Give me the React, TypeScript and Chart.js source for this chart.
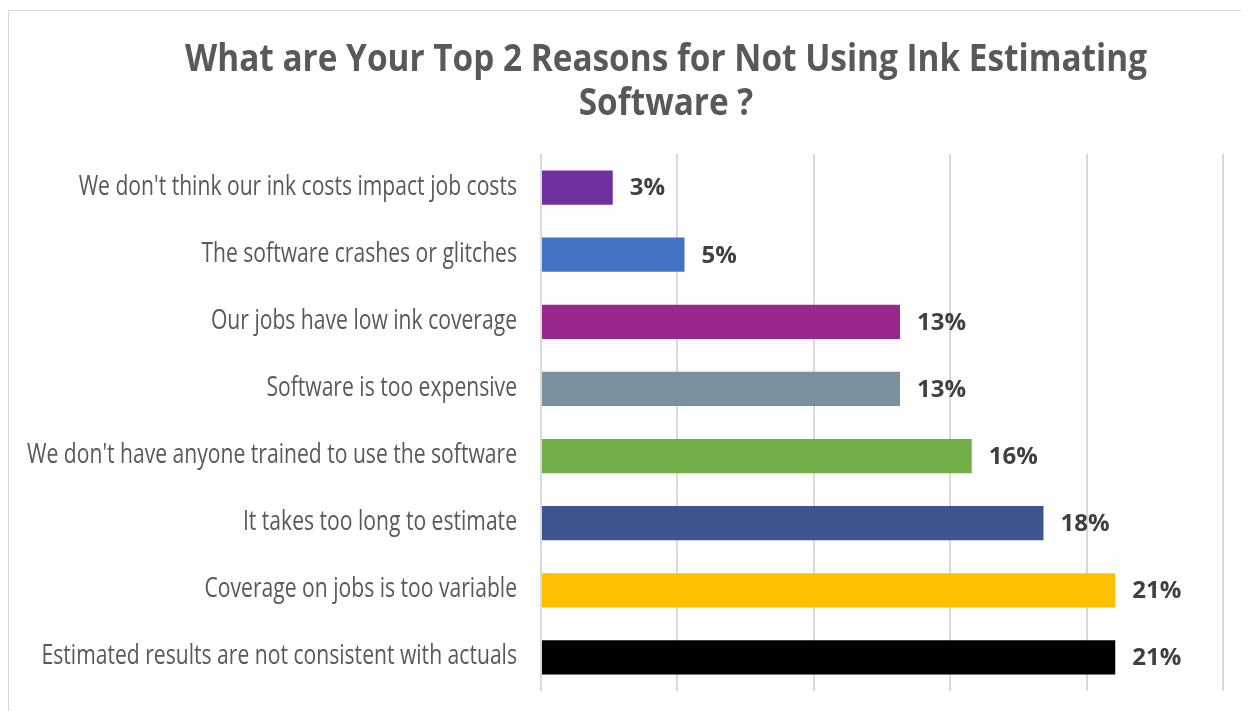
import React, { useEffect, useRef } from "react";
import { Chart, registerables } from "chart.js";

Chart.register(...registerables);

const titleLines = ["What are Your Top 2 Reasons for Not Using Ink Estimating", "Software ?"];

const categories = [
  "We don't think our ink costs impact job costs",
  "The software crashes or glitches",
  "Our jobs have low ink coverage",
  "Software is too expensive",
  "We don't have anyone trained to use the software",
  "It takes too long to estimate",
  "Coverage on jobs is too variable",
  "Estimated results are not consistent with actuals",
];

const values = [2.63, 5.26, 13.16, 13.16, 15.79, 18.42, 21.05, 21.05];

const barColors = ["#7030A0", "#4472C4", "#98288B", "#7A919E", "#70AD47", "#3E5690", "#FFC000", "#000000"];

const xTicks = [0, 5, 10, 15, 20, 25];

const titlePlugin = {
  id: "customTitle",
  afterDraw(chart: any) {
    const ctx = chart.ctx;
    ctx.save();
    ctx.fillStyle = "#595959";
    ctx.font = "bold 37px 'Open Sans'";
    ctx.textBaseline = "alphabetic";
    ctx.textAlign = "center";
    const cx = 657;
    const targetW = 962;
    const w = ctx.measureText(titleLines[0]).width;
    const sx = Math.min(1, targetW / w);
    const baselines = [60, 104];
    titleLines.forEach((line, i) => {
      ctx.save();
      ctx.translate(cx, baselines[i]);
      ctx.scale(sx, 1);
      ctx.fillText(line, 0, 0);
      ctx.restore();
    });
    ctx.restore();
  },
};

const categoryLabelPlugin = {
  id: "categoryLabels",
  afterDraw(chart: any) {
    const ctx = chart.ctx;
    const yScale = chart.scales.y;
    ctx.save();
    ctx.fillStyle = "#595959";
    ctx.font = "28px 'Open Sans'";
    ctx.textAlign = "right";
    ctx.textBaseline = "middle";
    const refW = ctx.measureText(categories[4]).width;
    const sx = 490 / refW;
    const right = 508;
    categories.forEach((label, i) => {
      const y = yScale.getPixelForTick(i);
      ctx.save();
      ctx.translate(right, y - 1);
      ctx.scale(sx, 1);
      ctx.fillText(label, 0, 0);
      ctx.restore();
    });
    ctx.restore();
  },
};

const valueLabelPlugin = {
  id: "valueLabels",
  afterDatasetsDraw(chart: any) {
    const ctx = chart.ctx;
    const meta = chart.getDatasetMeta(0);
    ctx.save();
    ctx.fillStyle = "#404040";
    ctx.font = "bold 24px 'Open Sans'";
    ctx.textAlign = "left";
    ctx.textBaseline = "middle";
    meta.data.forEach((el: any, i: number) => {
      const v = chart.data.datasets[0].data[i];
      ctx.fillText(Math.round(v) + "%", el.x + 17, el.y + 1);
    });
    ctx.restore();
  },
};

export default function App() {
  const ref = useRef<HTMLCanvasElement | null>(null);
  useEffect(() => {
    if (!ref.current) return;
    const chart = new Chart(ref.current, {
      type: "bar",
      data: {
        labels: categories,
        datasets: [
          {
            data: values,
            backgroundColor: barColors,
            barPercentage: 0.51,
            categoryPercentage: 1,
          },
        ],
      },
      options: {
        indexAxis: "y",
        animation: false,
        responsive: false,
        layout: { padding: { top: 143, right: 26, bottom: 20, left: 0 } },
        plugins: {
          legend: { display: false },
          tooltip: { enabled: false },
          title: { display: false },
        },
        scales: {
          x: {
            min: xTicks[0],
            max: xTicks[xTicks.length - 1],
            afterBuildTicks: (scale: any) => {
              scale.ticks = xTicks.map((v) => ({ value: v }));
            },
            afterFit: (scale: any) => {
              scale.height = 0;
            },
            ticks: { display: false },
            border: { display: false },
            grid: { color: "#d9d9d9", lineWidth: 2, drawTicks: false },
          },
          y: {
            afterFit: (scale: any) => {
              scale.width = 532;
            },
            ticks: { display: false },
            border: { display: false },
            grid: { display: false, drawTicks: false },
          },
        },
      },
      plugins: [titlePlugin, categoryLabelPlugin, valueLabelPlugin],
    });
    return () => chart.destroy();
  }, []);
  return (
    <div
      style={{
        marginTop: 2,
        width: 1241,
        height: 701,
        borderTop: "1px solid #d9d9d9",
        borderLeft: "1px solid #d9d9d9",
        background: "#fff",
        overflow: "hidden",
      }}
    >
      <canvas ref={ref} width={1240} height={700} style={{ display: "block" }} />
    </div>
  );
}
